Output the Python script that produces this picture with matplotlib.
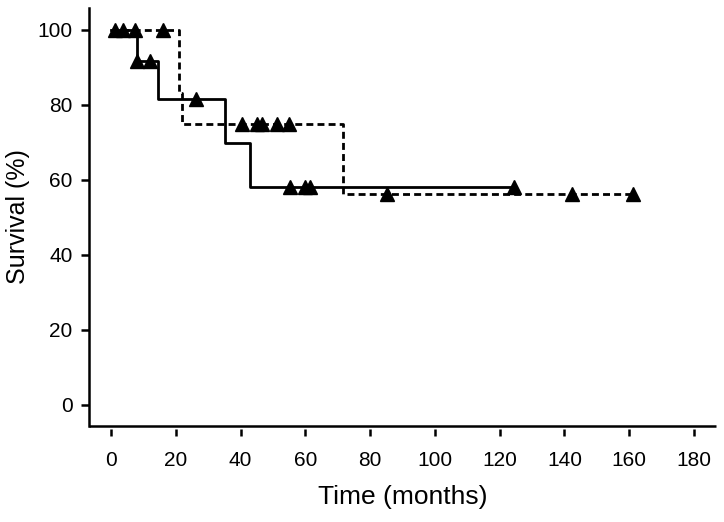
import matplotlib
matplotlib.use("Agg")
import matplotlib.pyplot as plt
import numpy as np

plt.rcParams["lines.scale_dashes"] = False

# Kaplan-Meier step curves (time in months, survival in %)
solid_t = [0, 8.0, 14.5, 35.2, 42.9, 124.4]
solid_s = [100, 91.7, 81.5, 69.9, 58.2, 58.2]
dashed_t = [0, 21.0, 21.9, 71.6, 161.1]
dashed_s = [100, 83.3, 75.0, 56.3, 56.3]

# censored observations (triangles)
solid_cens = [1.2, 3.7, 7.4, 8.0, 12.0, 26.2, 55.2, 59.9, 61.4, 124.4]
dashed_cens = [16.0, 40.4, 45.1, 46.6, 51.2, 54.9, 85.2, 142.3, 161.1]

x_ticks = [0, 20, 40, 60, 80, 100, 120, 140, 160, 180]
y_ticks = [0, 20, 40, 60, 80, 100]


def step_value(times, surv, t):
    i = np.searchsorted(times, t, side="right") - 1
    return surv[i]


fig = plt.figure(figsize=(7.24, 5.22), dpi=100)
ax = fig.add_axes([0.123, 0.184, 0.866, 0.801])

ax.plot(solid_t, solid_s, drawstyle="steps-post", color="black", lw=2.0)
ax.plot(dashed_t, dashed_s, drawstyle="steps-post", color="black", lw=2.0,
        linestyle=(0, (5, 3)))

ax.plot(solid_cens, [step_value(solid_t, solid_s, t) for t in solid_cens],
        "^", color="black", ms=10, clip_on=False)
ax.plot(dashed_cens, [step_value(dashed_t, dashed_s, t) for t in dashed_cens],
        "^", color="black", ms=10, clip_on=False)

ax.set_xlim(-6.8, 186.8)
ax.set_ylim(-5.6, 105.9)
ax.set_xticks(x_ticks)
ax.set_yticks(y_ticks)

for s in ["top", "right"]:
    ax.spines[s].set_visible(False)
ax.spines["left"].set_linewidth(1.8)
ax.spines["bottom"].set_visible(False)
ax.spines["bottom"].set_position(("outward", 2))
# bottom axis line drawn separately so ticks sit just below it
ax.plot([0, 1], [0, 0], transform=ax.transAxes, color="black", lw=1.8,
        clip_on=False, solid_capstyle="butt")

tick_font = ["Liberation Sans", "DejaVu Sans"]
ax.tick_params(axis="y", length=6, width=1.8, pad=6, labelsize=15)
ax.tick_params(axis="x", length=5, width=1.8, pad=11, labelsize=15)
for lab in ax.get_xticklabels() + ax.get_yticklabels():
    lab.set_fontfamily(tick_font)

ax.set_xlabel("Time (months)", fontsize=19, family="Liberation Sans", labelpad=11)
ax.set_ylabel("Survival (%)", fontsize=18, family="Liberation Sans", labelpad=5)

fig.savefig("out.png", dpi=100)
